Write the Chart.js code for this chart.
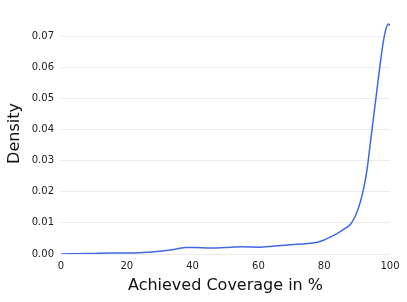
<!DOCTYPE html>
<html>
<head>
<meta charset="utf-8">
<script src="https://cdn.jsdelivr.net/npm/chart.js@4"></script>
<style>
  html, body { margin: 0; padding: 0; background: #fff; }
  #wrap { width: 407px; height: 302px; }
</style>
</head>
<body>
<div id="wrap"><canvas id="kde" width="407" height="302"></canvas></div>
<script>
// KDE of achieved coverage
const coverage = [0, 5, 10, 15, 20, 25, 30, 35, 38, 41, 45, 50, 55, 60, 65, 70, 75, 78, 80, 82, 84, 86, 88, 89, 90, 91, 92, 93, 94, 95, 96, 97, 98, 99, 99.5, 100];
const density = [0, 0.0001, 0.0002, 0.0003, 0.0003, 0.0005, 0.0009, 0.0016, 0.0021, 0.0021, 0.0019, 0.0021, 0.0023, 0.0022, 0.0026, 0.0030, 0.0034, 0.0038, 0.0045, 0.0055, 0.0066, 0.0080, 0.0096, 0.0112, 0.0136, 0.0168, 0.0212, 0.0270, 0.0355, 0.0440, 0.0525, 0.0610, 0.0685, 0.0732, 0.0740, 0.0735];
const xTicks = [0, 20, 40, 60, 80, 100];
const yTicks = [0, 0.01, 0.02, 0.03, 0.04, 0.05, 0.06, 0.07];

const points = coverage.map((c, i) => ({ x: c, y: density[i] }));
const font = 'DejaVu Sans';

new Chart(document.getElementById('kde'), {
    type: 'line',
    data: {
        datasets: [{
            data: points,
            borderColor: '#4169e1',
            borderWidth: 1.5,
            pointRadius: 0,
            fill: false,
            cubicInterpolationMode: 'monotone'
        }]
    },
    options: {
        responsive: false,
        animation: false,
        layout: { padding: { top: 6, right: 17, left: 5, bottom: 7 } },
        plugins: { legend: { display: false }, tooltip: { enabled: false } },
        scales: {
            x: {
                type: 'linear',
                min: 0,
                max: 100,
                afterBuildTicks: axis => { axis.ticks = xTicks.map(v => ({ value: v })); },
                afterFit: axis => { axis.height = 41; },
                grid: { display: false, drawTicks: false },
                border: { display: false },
                ticks: { color: '#222', padding: 6, font: { family: font, size: 10 } },
                title: { display: true, text: 'Achieved Coverage in %', color: '#111', font: { family: font, size: 16 }, padding: { top: 4, bottom: 0 } }
            },
            y: {
                min: 0,
                max: 0.0775,
                afterBuildTicks: axis => { axis.ticks = yTicks.map(v => ({ value: v })); },
                afterFit: axis => { axis.width = 56; },
                grid: { color: '#ebebeb', lineWidth: 1, drawTicks: false },
                border: { display: false },
                ticks: { color: '#222', padding: 7, font: { family: font, size: 10 }, callback: v => v.toFixed(2) },
                title: { display: true, text: 'Density', color: '#111', font: { family: font, size: 16 }, padding: { top: 0, bottom: 4 } }
            }
        }
    }
});
</script>
</body>
</html>
